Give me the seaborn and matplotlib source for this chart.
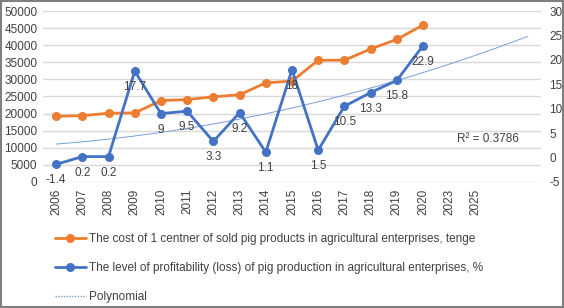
import numpy as np
import pandas as pd
import seaborn as sns
import matplotlib.pyplot as plt
from matplotlib.lines import Line2D
from matplotlib.patches import Rectangle

# category axis (two trailing empty categories carry the trendline forecast)
years = ['2006', '2007', '2008', '2009', '2010', '2011', '2012', '2013', '2014',
         '2015', '2016', '2017', '2018', '2019', '2020', '2023', '2025', '', '']

# cost of 1 centner of sold pig products, tenge
cost = [19200, 19400, 20100, 20200, 23800, 24100, 24900, 25500, 29000,
        29500, 35600, 35600, 38900, 41700, 45900]

# level of profitability (loss), %
profit = [-1.4, 0.2, 0.2, 17.7, 9, 9.5, 3.3, 9.2, 1.1,
          18, 1.5, 10.5, 13.3, 15.8, 22.9]

lbl_cost = "The cost of 1 centner of sold pig products in agricultural enterprises, tenge"
lbl_profit = "The level of profitability (loss) of pig production in agricultural enterprises, %"

orange = '#ED7D31'
blue = '#4472C4'
trend_col = '#7A9EDB'
grey_txt = '#404040'

sns.set_style("white")
plt.rcParams['font.family'] = ['Liberation Sans', 'DejaVu Sans']
plt.rcParams['axes.unicode_minus'] = False

df = pd.DataFrame({'x': np.arange(len(cost)), 'cost': cost, 'profit': profit})

fig = plt.figure(figsize=(5.64, 3.08), dpi=100)
ax = fig.add_axes([43 / 564, 1 - 182 / 308, (541 - 43) / 564, 171 / 308])
ax2 = ax.twinx()

sns.lineplot(data=df, x='x', y='cost', ax=ax, color=orange, lw=2,
             marker='o', markersize=6.5, markeredgewidth=0, zorder=3)
sns.lineplot(data=df, x='x', y='profit', ax=ax2, color=blue, lw=2,
             marker='o', markersize=6.5, markeredgewidth=0, zorder=4)

# polynomial (order 2) trendline on profitability, forecast to last category
coef = np.polyfit(df['x'] + 1, df['profit'], 2)
xt = np.linspace(0, len(years) - 1, 200)
ax2.plot(xt, np.polyval(coef, xt + 1), color=trend_col, lw=0.7, zorder=2)

for xi, v in zip(df['x'], profit):
    ax2.annotate(f"{v:g}", (xi, v), xytext=(0, -11.5), textcoords='offset points',
                 ha='center', va='center', fontsize=8.5, color=grey_txt, zorder=5)

ax2.text(0.893, 0.25, 'R² = 0.3786', transform=ax2.transAxes, ha='center',
         va='center', fontsize=8.5, color=grey_txt)

ax.set_xlim(-0.5, len(years) - 0.5)
ax.set_xticks(range(len(years)))
ax.set_xticklabels(years, rotation=90, fontsize=8.5, color=grey_txt)
ax.set_ylim(0, 50000)
ax.set_yticks(range(0, 50001, 5000))
ax.tick_params(axis='y', labelsize=8.5, colors=grey_txt, length=0, pad=4)
ax.tick_params(axis='x', length=0, pad=5)
ax.yaxis.grid(True, color='#d9d9d9', lw=1)
ax.set_axisbelow(True)
ax.set_xlabel('')
ax.set_ylabel('')

ax2.set_ylim(-5, 30)
ax2.set_yticks(range(-5, 31, 5))
ax2.tick_params(axis='y', labelsize=8.5, colors=grey_txt, length=0, pad=6)
ax2.set_ylabel('')
ax2.grid(False)

for a in (ax, ax2):
    for s in a.spines.values():
        s.set_visible(False)

handles = [
    Line2D([], [], color=orange, lw=2, marker='o', markersize=6.5, markeredgewidth=0),
    Line2D([], [], color=blue, lw=2, marker='o', markersize=6.5, markeredgewidth=0),
    Line2D([], [], color=trend_col, lw=1, linestyle=(0, (1, 1))),
]
fig.legend(handles, [lbl_cost, lbl_profit, 'Polynomial'], loc='upper left',
           bbox_to_anchor=(55 / 564, 1 - 233 / 308), frameon=False,
           fontsize=8.5, labelcolor=grey_txt, handlelength=2.6,
           handletextpad=0.3, labelspacing=1.45, borderaxespad=0, borderpad=0)

fig.patches.append(Rectangle((0.001, 0.002), 0.997, 0.996, transform=fig.transFigure,
                             fill=False, edgecolor='#7f7f7f', lw=1.5))

fig.savefig('out.png', dpi=100)
